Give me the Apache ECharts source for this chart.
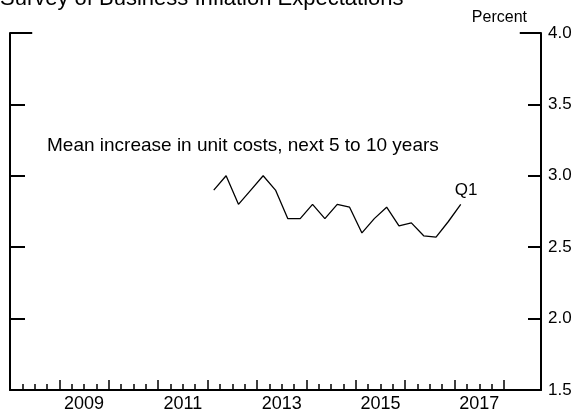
<!DOCTYPE html>
<html>
<head>
<meta charset="utf-8">
<script src="https://cdn.jsdelivr.net/npm/echarts@6/dist/echarts.min.js"></script>
<style>
  html, body { margin: 0; padding: 0; background: #fff; }
  #main { width: 580px; height: 413px; }
</style>
</head>
<body>
<div id="main"></div>
<script>
// 季度（2012Q1 - 2017Q1）
var quarters = ['2012Q1','2012Q2','2012Q3','2012Q4','2013Q1','2013Q2','2013Q3','2013Q4',
                '2014Q1','2014Q2','2014Q3','2014Q4','2015Q1','2015Q2','2015Q3','2015Q4',
                '2016Q1','2016Q2','2016Q3','2016Q4','2017Q1'];
// 单位成本预期涨幅，未来5-10年
var unitCosts = [2.9, 3.0, 2.8, 2.9, 3.0, 2.9, 2.7, 2.7, 2.8, 2.7, 2.8, 2.78, 2.6, 2.7, 2.78, 2.65,
                 2.67, 2.58, 2.57, 2.68, 2.8];
// 坐标轴刻度
var yearTicks = [2008, 2009, 2010, 2011, 2012, 2013, 2014, 2015, 2016, 2017, 2018];
var yearLabels = [2009, 2011, 2013, 2015, 2017];
var yTicks = [1.5, 2.0, 2.5, 3.0, 3.5, 4.0];

var font = 'Liberation Sans, Arial, sans-serif';

// 季度 -> 年份小数（季度中点）
function qToX(q){
    return +q.slice(0,4) + (+q.slice(5) - 1) * 0.25 + 0.125;
}
var lineData = quarters.map(function(q, i){ return [qToX(q), unitCosts[i]]; });

// 小刻度：每个季度
var quarterTicks = [];
yearTicks.slice(0, -1).forEach(function(y){
    quarterTicks.push(y + 0.25, y + 0.5, y + 0.75);
});

var xMin = 2008, xMax = 2018.75;
var yTop = yTicks[yTicks.length - 1];

var myChart = echarts.init(document.getElementById('main'));

var option = {
    animation: false,
    backgroundColor: '#fff',
    grid: { left: 10, right: 39, top: 33, bottom: 23 },
    graphic: [
        { type: 'text', left: 0, top: -12,
          style: { text: 'Survey of Business Inflation Expectations', fontSize: 22, fill: '#000', fontFamily: font } },
        { type: 'text', right: 53, top: 10,
          style: { text: 'Percent', fontSize: 16, fill: '#000', fontFamily: font } },
        { type: 'text', left: 47, top: 136,
          style: { text: 'Mean increase in unit costs, next 5 to 10 years', fontSize: 19, fill: '#000', fontFamily: font } }
    ],
    xAxis: [{
        type: 'value', min: xMin, max: xMax,
        axisLine: { show: true, onZero: false, lineStyle: { color: '#000', width: 2 } },
        axisTick: { show: true, inside: true, length: 10, customValues: yearTicks, lineStyle: { color: '#000', width: 1.5 } },
        axisLabel: {
            customValues: yearLabels.map(function(y){ return y + 0.5; }),
            formatter: function(v){ return String(Math.floor(v)); },
            fontSize: 18, color: '#000', fontFamily: font, margin: 5
        },
        splitLine: { show: false }
    }, {
        type: 'value', min: xMin, max: xMax, position: 'bottom',
        axisLine: { show: false },
        axisTick: { show: true, inside: true, length: 6, customValues: quarterTicks, lineStyle: { color: '#000', width: 1.5 } },
        axisLabel: { show: false },
        splitLine: { show: false }
    }],
    yAxis: [{
        type: 'value', position: 'right', min: 1.5, max: 4, interval: 0.5,
        axisLine: { show: true, lineStyle: { color: '#000', width: 2 } },
        axisTick: { show: true, inside: true, length: 13, lineStyle: { color: '#000', width: 2 } },
        axisLabel: {
            formatter: function(v){ return v.toFixed(1); },
            fontSize: 17, color: '#000', fontFamily: font, margin: 7
        },
        splitLine: { show: false }
    }, {
        type: 'value', position: 'left', min: 1.5, max: 4, interval: 0.5,
        axisLine: { show: true, lineStyle: { color: '#000', width: 2 } },
        axisTick: { show: true, inside: true, length: 15, lineStyle: { color: '#000', width: 2 } },
        axisLabel: { show: false },
        splitLine: { show: false }
    }],
    series: [{
        type: 'line',
        data: lineData,
        showSymbol: false,
        symbol: 'none',
        lineStyle: { color: '#000', width: 1.3 },
        endLabel: {
            show: true, formatter: 'Q1', offset: [-14, -14],
            fontSize: 17, color: '#000', fontFamily: font
        },
        markLine: {
            silent: true,
            symbol: 'none',
            label: { show: false },
            lineStyle: { color: '#000', width: 2, type: 'solid' },
            data: [
                [{ coord: [xMin, yTop] }, { coord: [xMin + 0.45, yTop] }],
                [{ coord: [xMax - 0.43, yTop] }, { coord: [xMax, yTop] }]
            ]
        }
    }]
};
myChart.setOption(option);
</script>
</body>
</html>
